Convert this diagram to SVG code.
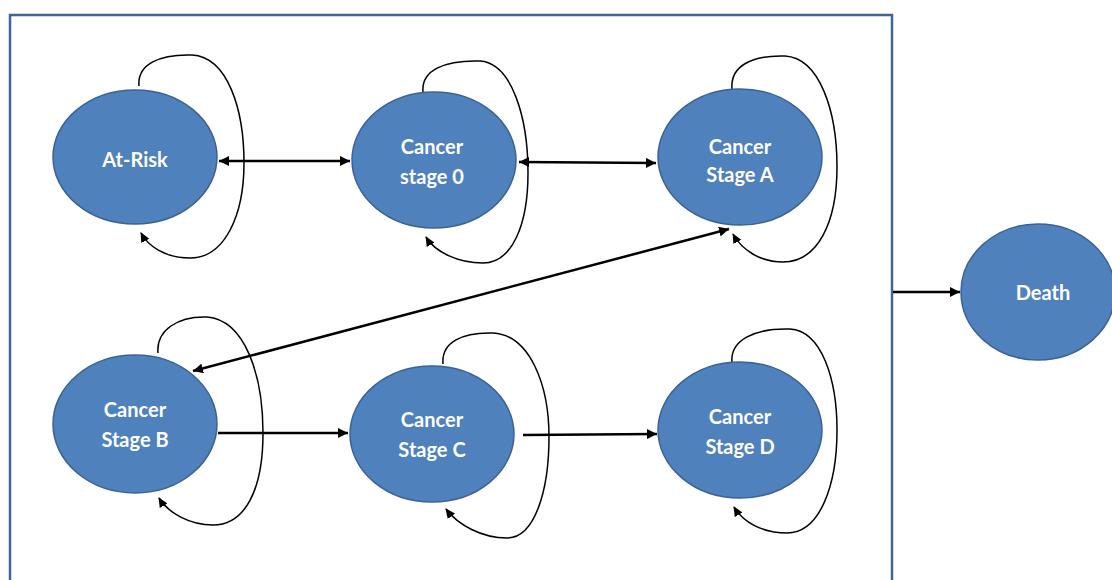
<svg xmlns="http://www.w3.org/2000/svg" width="1112" height="580" viewBox="0 0 1112 580">
<style>
.node ellipse{fill:#4f81bd;stroke:#3a6296;stroke-width:1.5}
.node text{fill:#ffffff;font-family:Lato,"Open Sans","Liberation Sans",sans-serif;font-weight:bold;font-size:20px;text-anchor:middle}
.edge{fill:none;stroke:#000;stroke-width:2.5}
.loop{fill:none;stroke:#000;stroke-width:1.5}
</style>
<defs>
<marker id="ah" markerUnits="userSpaceOnUse" markerWidth="12" markerHeight="10" refX="10" refY="5" orient="auto-start-reverse"><path d="M0,0 L10,5 L0,10 Z" fill="#000"/></marker>
<marker id="ahs" markerUnits="userSpaceOnUse" markerWidth="12" markerHeight="10" refX="9" refY="5" orient="auto"><path d="M0,0.5 L10,5 L0,9.5 Z" fill="#000"/></marker>
</defs>
<rect id="frame" x="10" y="15" width="882" height="600" fill="#fff" stroke="#3f6698" stroke-width="2.5"/>
<g id="connectors">
<path class="edge" d="M219,161 L350,161" marker-start="url(#ah)" marker-end="url(#ah)"/>
<path class="edge" d="M519,162 L656,163" marker-start="url(#ah)" marker-end="url(#ah)"/>
<path class="edge" d="M193,371 L729,229" marker-start="url(#ah)" marker-end="url(#ah)"/>
<path class="edge" d="M218,433 L348,433" marker-end="url(#ah)"/>
<path class="edge" d="M523,435 L657,434" marker-end="url(#ah)"/>
<path class="edge" d="M893,292 L960,292" marker-end="url(#ah)"/>
<path class="loop" d="M139,86 C137,64 160,54 192,55 C228,57 244,110 244,163 C244,215 225,258 190,258 C165,258 148,246 141,233" marker-end="url(#ahs)"/>
<path class="loop" d="M423,92 C421,70 445,60 480,61 C512,63 528,118 528,173 C528,225 512,263 483,263 C458,263 435,252 426,237" marker-end="url(#ahs)"/>
<path class="loop" d="M732,89 C730,66 752,55 785,56 C820,58 837,112 837,167 C837,222 818,262 783,262 C760,262 742,250 733,234" marker-end="url(#ahs)"/>
<path class="loop" d="M158,353 C156,330 178,316 207,317 C245,320 263,375 263,433 C263,490 245,525 213,525 C190,525 168,513 159,498" marker-end="url(#ahs)"/>
<path class="loop" d="M443,364 C441,342 463,332 493,333 C530,335 549,385 549,437 C549,490 535,538 507,538 C482,538 458,525 446,509" marker-end="url(#ahs)"/>
<path class="loop" d="M732,362 C730,340 755,328 790,329 C822,331 837,380 837,430 C837,485 820,533 787,533 C762,533 743,522 734,507" marker-end="url(#ahs)"/>
</g>
<g id="at-risk" class="node"><ellipse cx="135" cy="157" rx="82" ry="67"/><text x="135" y="167">At-Risk</text></g>
<g id="stage0" class="node"><ellipse cx="434" cy="160" rx="82" ry="68"/><text x="432" y="154">Cancer</text><text x="432" y="184">stage 0</text></g>
<g id="stageA" class="node"><ellipse cx="740" cy="157" rx="82" ry="68"/><text x="740" y="154">Cancer</text><text x="740" y="182">Stage A</text></g>
<g id="stageB" class="node"><ellipse cx="135" cy="424" rx="82" ry="69"/><text x="135" y="417">Cancer</text><text x="135" y="447">Stage B</text></g>
<g id="stageC" class="node"><ellipse cx="432" cy="434" rx="82" ry="68"/><text x="432" y="427">Cancer</text><text x="432" y="457">Stage C</text></g>
<g id="stageD" class="node"><ellipse cx="740" cy="430" rx="82" ry="68"/><text x="740" y="424">Cancer</text><text x="740" y="454">Stage D</text></g>
<g id="death" class="node"><ellipse cx="1038" cy="292" rx="77" ry="68"/><text x="1043" y="300">Death</text></g>
</svg>
